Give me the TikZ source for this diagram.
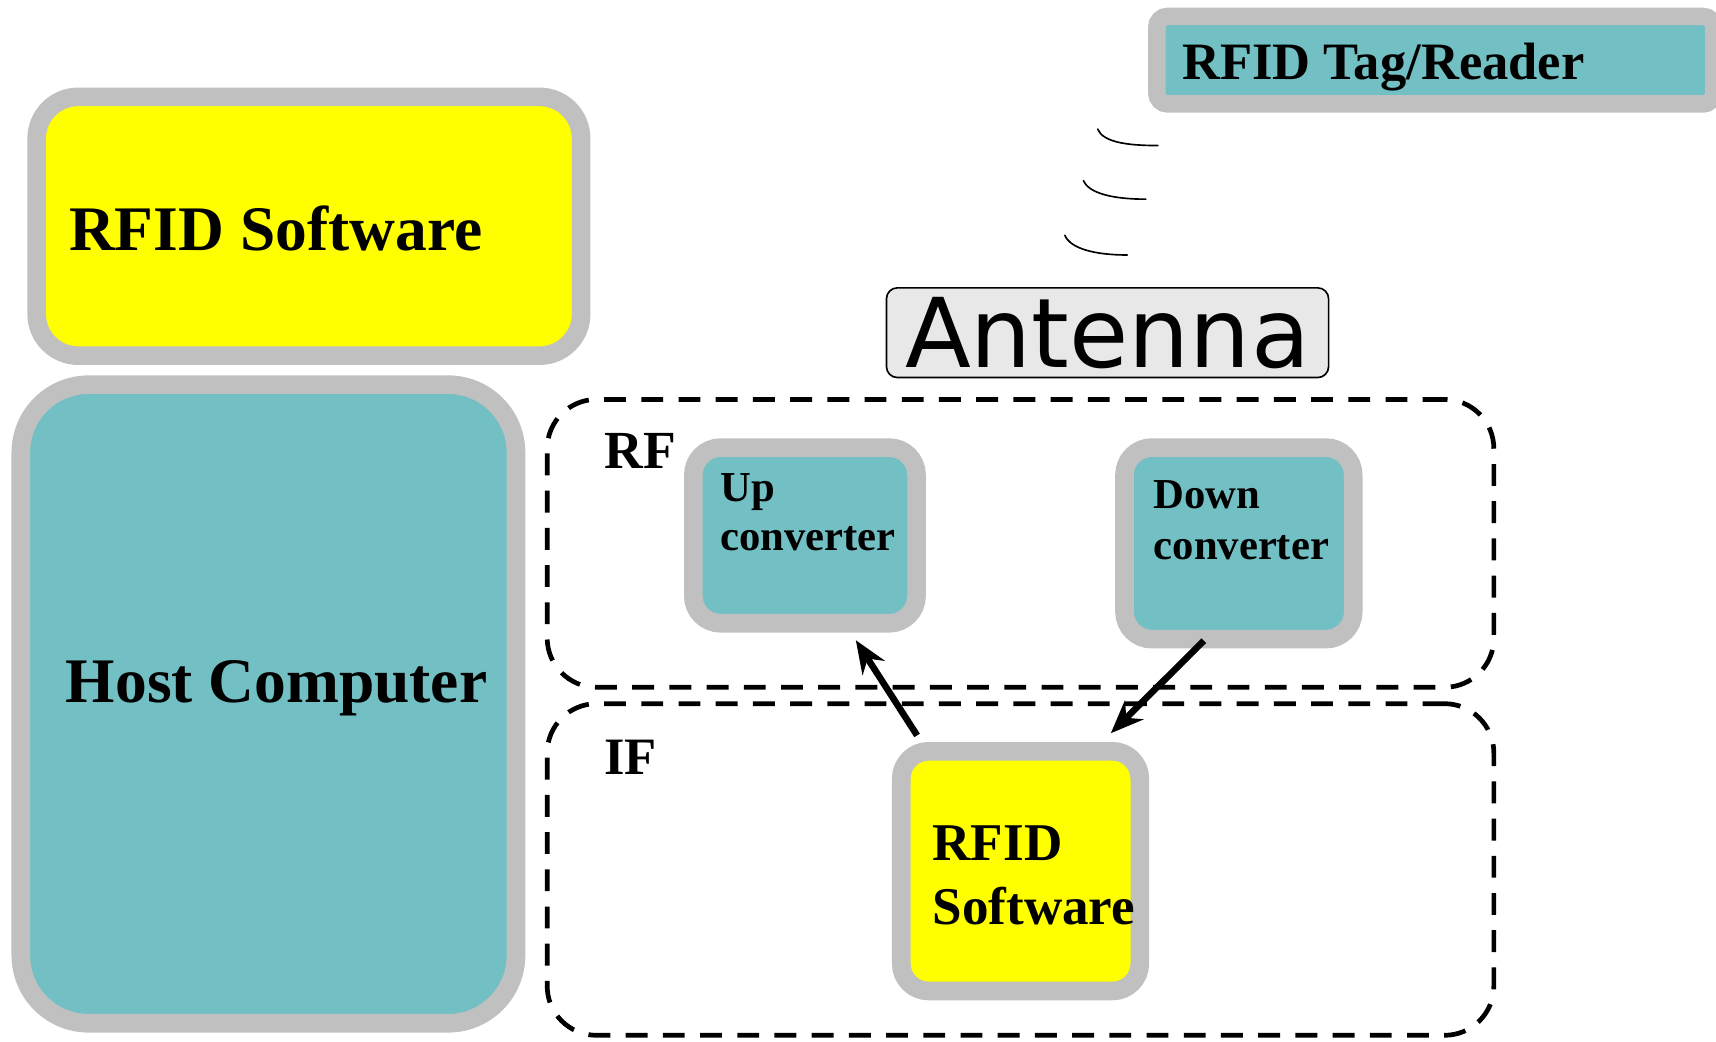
\documentclass[tikz,border=0pt]{standalone}
\usepackage{fontspec}
\setmainfont{Liberation Serif}
\newfontfamily\antfont{DejaVu Sans}
\usetikzlibrary{arrows.meta,calc}
\definecolor{boxgray}{HTML}{C0C0C0}
\definecolor{tealfill}{HTML}{72BFC4}
\definecolor{swyellow}{HTML}{FFFF00}
\definecolor{antfill}{HTML}{E8E8E8}
\newcommand{\bsz}[1]{\fontsize{#1}{#1}\selectfont\bfseries}
\begin{document}
\begin{tikzpicture}[x=1pt,y=-1pt,
  graybox/.style={rectangle, draw=boxgray, line width=17, inner sep=0},
  tealbox/.style={graybox, fill=tealfill},
  yellowbox/.style={graybox, fill=swyellow},
  region/.style={rectangle, draw=black, line width=4.3, dash pattern=on 20 off 14, rounded corners=45, inner sep=0},
  lbl/.style={anchor=base west, inner sep=0, text=black},
  flow/.style={line width=6, -{Stealth[length=30, width=24, inset=10]}},
  wave/.style={line width=1.5, line cap=round}
]
\clip (0,0) rectangle (1568,952);

% software and host blocks on the left
\node[yellowbox, rounded corners=38, minimum width=497.5, minimum height=236.5] (sw1) at (282.25,206.75) {};
\node[lbl, font=\bsz{58}] (sw1t) at (63,229) {RFID Software};

\node[tealbox, rounded corners=62, minimum width=452.5, minimum height=583.5] (host) at (245.25,643.25) {};
\node[lbl, font=\bsz{58}] (hostt) at (60,642) {Host Computer};

% tag / reader
\node[tealbox, line width=16, rounded corners=10, minimum width=509, minimum height=80] (tag) at (1311.5,55) {};
\node[lbl, font=\bsz{48}] (tagt) at (1080,73) {RFID Tag/Reader};

% radio waves
\draw[wave] (1003,118) .. controls (1008,130) and (1030,133) .. (1058,133);
\draw[wave] (990,165) .. controls (995,177) and (1018,182) .. (1047,182);
\draw[wave] (973,215) .. controls (978,227) and (1000,233) .. (1030,233);

% antenna
\node[rectangle, draw=black, line width=1.5, fill=antfill, rounded corners=10,
      minimum width=404, minimum height=82, inner sep=0,
      font=\antfont\fontsize{88}{88}\selectfont] (ant) at (1012,304) {Antenna};

% RF and IF regions
\node[region, minimum width=865, minimum height=263] (rf) at (932.5,496.5) {};
\node[lbl, font=\bsz{49}] (rft) at (552,428) {RF};
\node[region, minimum width=865, minimum height=303] (if) at (932.5,794.5) {};
\node[lbl, font=\bsz{48}] (ift) at (552,708) {IF};

% converters
\node[tealbox, rounded corners=25, minimum width=204, minimum height=160.5] (up) at (735.5,489.25) {};
\node[lbl, font=\bsz{39}] (upa) at (658,458) {Up};
\node[lbl, font=\bsz{39}] (upb) at (658,503) {converter};

\node[tealbox, rounded corners=25, minimum width=209, minimum height=175] (down) at (1132,496.5) {};
\node[lbl, font=\bsz{39}] (downa) at (1054,465) {Down};
\node[lbl, font=\bsz{39}] (downb) at (1054,511) {converter};

% IF software
\node[yellowbox, rounded corners=25, minimum width=218, minimum height=219] (sw2) at (932.5,796) {};
\node[lbl, font=\bsz{48.5}] (sw2a) at (852,786) {RFID};
\node[lbl, font=\bsz{48.5}] (sw2b) at (852,845) {Software};

% signal flow
\draw[flow] ($(sw2.north)+(-94.5,-6)$) -- ($(up.south)+(46.5,7)$);
\draw[flow] ($(down.south)+(-32,-7)$) -- ($(sw2.north)+(82.5,-8)$);
\end{tikzpicture}
\end{document}
